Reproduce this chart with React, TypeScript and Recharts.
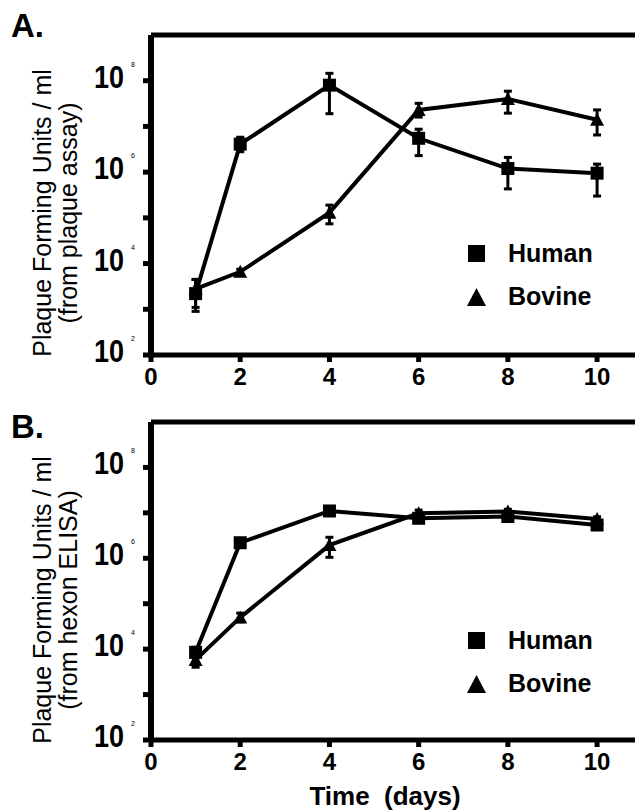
import React from 'react';
import { LineChart, Line, XAxis, YAxis, ErrorBar, Legend, ReferenceLine, Label } from 'recharts';

const FONT = '"Liberation Sans", Arial, Helvetica, sans-serif';

const days = [1, 2, 4, 6, 8, 10];
const xTicks = [0, 2, 4, 6, 8, 10];
const yTicks = [1e2, 1e3, 1e4, 1e5, 1e6, 1e7, 1e8];

// A: plaque assay, PFU / ml (bounds = ends of the error bars)
const humanPlaque = [2.2e3, 4.1e6, 8.0e7, 5.5e6, 1.2e6, 9.5e5];
const humanPlaqueLow = [1.1e3, 2.8e6, 1.9e7, 2.3e6, 4.3e5, 3.0e5];
const humanPlaqueHigh = [4.5e3, 5.8e6, 1.45e8, 8.7e6, 2.1e6, 1.5e6];
const bovinePlaque = [2.8e3, 6.6e3, 1.3e5, 2.3e7, 4.0e7, 1.4e7];
const bovinePlaqueLow = [9e2, 5.8e3, 7.4e4, 1.6e7, 1.95e7, 6.5e6];
const bovinePlaqueHigh = [4.5e3, 7.5e3, 1.9e5, 3.2e7, 5.9e7, 2.3e7];

// B: hexon ELISA, PFU / ml
const humanElisa = [8.5e3, 2.2e6, 1.1e7, 7.6e6, 8.3e6, 5.4e6];
const humanElisaLow = [6.5e3, 1.9e6, 1.0e7, 6.8e6, 7.4e6, 4.8e6];
const humanElisaHigh = [1.1e4, 2.5e6, 1.2e7, 8.5e6, 9.3e6, 6.1e6];
const bovineElisa = [5.8e3, 5.0e4, 1.95e6, 9.8e6, 1.07e7, 7.3e6];
const bovineElisaLow = [4.0e3, 4.0e4, 1.05e6, 8.5e6, 9.5e6, 6.5e6];
const bovineElisaHigh = [7.5e3, 6.2e4, 2.9e6, 1.15e7, 1.2e7, 8.2e6];

const YTick = (props: any) => {
  const { x, y, payload } = props;
  const exp = Math.round(Math.log10(payload.value));
  if (exp % 2 !== 0) return <g />;
  return (
    <g fontFamily={FONT}>
      <text x={x - 31} y={y + 7} fontSize={31} fontWeight="bold" fill="#000" textLength={30} lengthAdjust="spacingAndGlyphs">10</text>
      <text x={x + 6} y={y - 14} fontSize={7} fill="#000">{exp}</text>
    </g>
  );
};

const XTick = (props: any) => {
  const { x, y, payload } = props;
  return (
    <text x={x} y={y + 23} textAnchor="middle" fontSize={24} fontWeight="bold" fontFamily={FONT} fill="#000">
      {payload.value}
    </text>
  );
};

const YTitle = ({ lines, mid }: any) => (
  <g fontFamily={FONT} fontSize={25} fill="#000">
    <text transform={`translate(51, ${mid}) rotate(-90)`} textAnchor="middle">{lines[0]}</text>
    <text transform={`translate(77, ${mid}) rotate(-90)`} textAnchor="middle">{lines[1]}</text>
  </g>
);

const PanelLetter = ({ letter, base }: any) => (
  <text x={11} y={base} fontFamily={FONT} fontSize={33} fontWeight="bold" fill="#000">{letter}</text>
);

const XTitle = ({ base }: any) => (
  <text x={385} y={base} textAnchor="middle" fontFamily={FONT} fontSize={26} fontWeight="bold" fill="#000" style={{ whiteSpace: 'pre' }}>
    {'Time  (days)'}
  </text>
);

const LegendBox = () => (
  <svg width={150} height={80} style={{ display: 'block' }}>
    <rect x={6} y={7} width={17} height={17} fill="#000" />
    <text x={46} y={24} fontFamily={FONT} fontSize={25} fontWeight="bold" fill="#000">Human</text>
    <path d="M 5 68 L 14.5 50 L 24 68 Z" fill="#000" />
    <text x={46} y={67} fontFamily={FONT} fontSize={25} fontWeight="bold" fill="#000">Bovine</text>
  </svg>
);

const squareDot = (p: any) => (
  <rect key={`sq-${p.index}`} x={p.cx - 6.5} y={p.cy - 6.5} width={13} height={13} fill="#000" />
);

const triangleDot = (p: any) => (
  <path key={`tr-${p.index}`} d={`M ${p.cx - 7} ${p.cy + 6} L ${p.cx} ${p.cy - 7} L ${p.cx + 7} ${p.cy + 6} Z`} fill="#000" />
);

function Panel(props: any) {
  const { letter, letterBase, top, height, xHeight, titleLines, human, humanLow, humanHigh, bovine, bovineLow, bovineHigh, xTitleBase } = props;
  const rows = days.map((day, i) => ({
    day,
    human: human[i],
    humanErr: [human[i] - humanLow[i], humanHigh[i] - human[i]],
    bovine: bovine[i],
    bovineErr: [bovine[i] - bovineLow[i], bovineHigh[i] - bovine[i]],
  }));
  return (
    <div style={{ position: 'absolute', left: 0, top, width: 635, height }}>
      <LineChart width={635} height={height} data={rows} margin={{ top: 35, right: 0, bottom: 0, left: 0 }}>
        <XAxis
          type="number"
          dataKey="day"
          domain={[0, 10.85]}
          ticks={xTicks}
          allowDataOverflow
          height={xHeight}
          stroke="#000"
          strokeWidth={5}
          axisLine={{ stroke: '#000', strokeWidth: 5 }}
          tickLine={{ stroke: '#000', strokeWidth: 5 }}
          tickSize={7}
          tickMargin={0}
          tick={<XTick />}
        >
          {xTitleBase ? <Label content={<XTitle base={xTitleBase} />} /> : null}
        </XAxis>
        <YAxis
          type="number"
          scale="log"
          domain={[1e2, 1e9]}
          ticks={yTicks}
          allowDataOverflow
          width={151}
          stroke="#000"
          strokeWidth={6}
          axisLine={{ stroke: '#000', strokeWidth: 6 }}
          tickLine={{ stroke: '#000', strokeWidth: 5 }}
          tickSize={8}
          tickMargin={18}
          tick={<YTick />}
        >
          <Label content={<YTitle lines={titleLines} mid={213} />} />
          <Label content={<PanelLetter letter={letter} base={letterBase} />} />
        </YAxis>
        <ReferenceLine y={1e9} stroke="#000" strokeWidth={5} />
        <Legend
          layout="vertical"
          align="center"
          verticalAlign="middle"
          content={<LegendBox />}
          wrapperStyle={{ left: 462, top: 238, width: 150, height: 80 }}
        />
        <Line dataKey="human" name="Human" stroke="#000" strokeWidth={4} dot={squareDot} activeDot={false} isAnimationActive={false}>
          <ErrorBar dataKey="humanErr" direction="y" width={4} stroke="#000" strokeWidth={3} />
        </Line>
        <Line dataKey="bovine" name="Bovine" stroke="#000" strokeWidth={4} dot={triangleDot} activeDot={false} isAnimationActive={false}>
          <ErrorBar dataKey="bovineErr" direction="y" width={4} stroke="#000" strokeWidth={3} />
        </Line>
      </LineChart>
    </div>
  );
}

export default function App() {
  return (
    <div style={{ position: 'absolute', left: 0, top: 0, width: 635, height: 810, background: '#fff', overflow: 'hidden' }}>
      <Panel
        letter="A."
        letterBase={37}
        top={0}
        height={395}
        xHeight={40}
        titleLines={['Plaque Forming Units / ml', '(from plaque assay)']}
        human={humanPlaque}
        humanLow={humanPlaqueLow}
        humanHigh={humanPlaqueHigh}
        bovine={bovinePlaque}
        bovineLow={bovinePlaqueLow}
        bovineHigh={bovinePlaqueHigh}
      />
      <Panel
        letter="B."
        letterBase={51}
        top={387}
        height={423}
        xHeight={70}
        titleLines={['Plaque Forming Units / ml', '(from hexon ELISA)']}
        human={humanElisa}
        humanLow={humanElisaLow}
        humanHigh={humanElisaHigh}
        bovine={bovineElisa}
        bovineLow={bovineElisaLow}
        bovineHigh={bovineElisaHigh}
        xTitleBase={418}
      />
    </div>
  );
}
